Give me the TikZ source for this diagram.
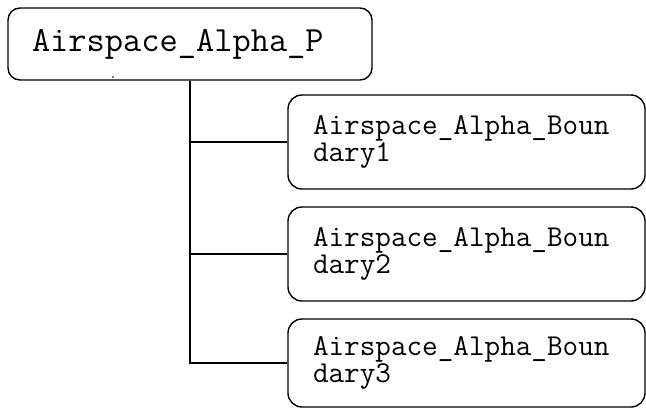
\documentclass[tikz,border=0pt]{standalone}
\usepackage{fontspec}
\begin{document}
\begin{tikzpicture}[x=1pt,y=-1pt,
  every path/.style={line width=1.4pt},
  rootbox/.style={draw, rounded corners=12pt, minimum width=364pt, minimum height=72pt,
    inner xsep=24pt, text width=316pt, align=left, font=\ttfamily\fontsize{35.4}{37}\selectfont},
  leafbox/.style={draw, rounded corners=14pt, minimum width=357pt, minimum height=94pt,
    inner xsep=25pt, text width=307pt, align=left, font=\ttfamily\fontsize{30.3}{27.5}\selectfont},
  link/.style={draw, line width=1.4pt}]
\useasboundingbox (0,0) rectangle (646,408);
\node[rootbox] (root) at (190,44) {Airspace\_Alpha\_P};
\fill (113,77) circle (0.9pt);
\node[leafbox] (b1) at (466.5,142) {Airspace\_Alpha\_Boun\\dary1};
\node[leafbox] (b2) at (466.5,254) {Airspace\_Alpha\_Boun\\dary2};
\node[leafbox, minimum height=88pt] (b3) at (466.5,363) {Airspace\_Alpha\_Boun\\dary3};
\coordinate (tx) at (190,0);
\draw[link] (root.south -| tx) |- (b3.west);
\draw[link] (tx |- b1.west) -- (b1.west);
\draw[link] (tx |- b2.west) -- (b2.west);
\end{tikzpicture}
\end{document}
